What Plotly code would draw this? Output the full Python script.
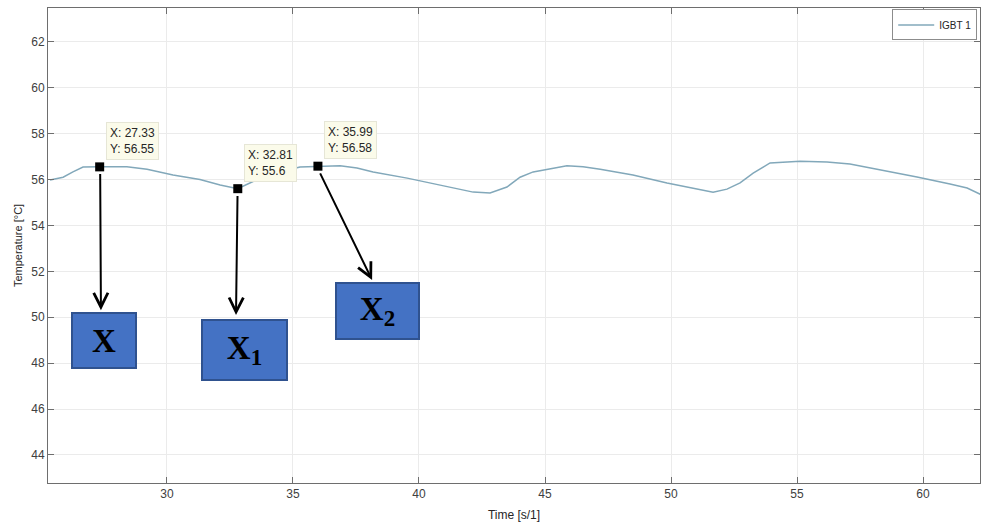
import plotly.graph_objects as go

# Temperature trace
time_s = [25.36, 25.88, 26.27, 26.67, 27.33, 28.41, 29.21, 30.24, 31.31, 32.11, 32.81,
          33.41, 33.97, 35.28, 35.99, 36.87, 37.54, 38.18, 39.53, 40.84, 42.15, 42.82,
          43.49, 44.01, 44.53, 45.87, 46.51, 47.19, 48.49, 49.84, 51.15, 51.67, 52.22,
          52.74, 53.26, 53.93, 55.12, 56.19, 57.10, 58.41, 59.76, 61.07, 61.75, 62.34]
temp_c = [55.98, 56.10, 56.33, 56.54, 56.55, 56.55, 56.45, 56.20, 56.00, 55.76, 55.60,
          55.90, 56.20, 56.54, 56.58, 56.60, 56.50, 56.33, 56.06, 55.76, 55.45, 55.41,
          55.67, 56.10, 56.33, 56.60, 56.55, 56.45, 56.20, 55.85, 55.54, 55.45, 55.58,
          55.85, 56.28, 56.72, 56.80, 56.76, 56.67, 56.41, 56.11, 55.80, 55.63, 55.32]

# Data tips
tip_x = [27.33, 32.81, 35.99]
tip_y = [56.55, 55.6, 56.58]
tip_labels = ["X: 27.33<br>Y: 56.55", "X: 32.81<br>Y: 55.6", "X: 35.99<br>Y: 56.58"]

# Labelled boxes and arrow heads
box_text = ["<b>X</b>", "<b>X<sub>1</sub></b>", "<b>X<sub>2</sub></b>"]
box_x = [27.49, 33.07, 38.36]
box_y = [48.97, 48.57, 50.28]
box_w = [62, 83, 81]
box_h = [53, 58, 54]
arrow_head_x = [27.38, 32.74, 38.14]
arrow_head_y = [50.31, 50.10, 51.62]
arrow_tail_y = [56.30, 55.35, 56.33]
arrow_tail_x = [27.35, 32.80, 36.05]

x_ticks = [30, 35, 40, 45, 50, 55, 60]
y_ticks = [44, 46, 48, 50, 52, 54, 56, 58, 60, 62]

fig = go.Figure()
fig.add_trace(go.Scatter(x=time_s, y=temp_c, mode="lines", name="IGBT 1",
                         line=dict(color="#82A8BA", width=1.5)))
fig.add_trace(go.Scatter(x=tip_x, y=tip_y, mode="markers", showlegend=False,
                         marker=dict(symbol="square", size=9, color="black")))

annotations = []
for x, y, t in zip(tip_x, tip_y, tip_labels):
    annotations.append(dict(x=x, y=y, xref="x", yref="y", text=t, showarrow=False,
                            xanchor="left", yanchor="bottom", xshift=6, yshift=7,
                            align="left", bgcolor="#FBFBEA", bordercolor="#E6E6D6",
                            borderwidth=1, borderpad=3,
                            font=dict(family="Liberation Sans, Arial", size=12, color="#262626")))
for hx, hy, tx, ty in zip(arrow_head_x, arrow_head_y, arrow_tail_x, arrow_tail_y):
    annotations.append(dict(x=hx, y=hy, ax=tx, ay=ty, xref="x", yref="y", axref="x", ayref="y",
                            text="", showarrow=True, arrowhead=5, arrowsize=1.4,
                            arrowwidth=2, arrowcolor="black", standoff=0, startstandoff=0))
for t, x, y, w, h in zip(box_text, box_x, box_y, box_w, box_h):
    annotations.append(dict(x=x, y=y, xref="x", yref="y", text=t, showarrow=False,
                            width=w, height=h, bgcolor="#4472C4", bordercolor="#2F528F",
                            borderwidth=2, borderpad=0, valign="middle", align="center",
                            font=dict(family="Liberation Serif, Times New Roman", size=33, color="black")))

fig.update_layout(
    width=982, height=523,
    margin=dict(l=48, r=2, t=8, b=40, autoexpand=False),
    paper_bgcolor="white", plot_bgcolor="white",
    showlegend=True,
    legend=dict(x=0.997, y=0.997, xanchor="right", yanchor="top",
                bgcolor="white", bordercolor="#8C8C8C", borderwidth=1,
                font=dict(family="Liberation Sans, Arial", size=10, color="#262626"),
                itemwidth=36, tracegroupgap=0),
    annotations=annotations,
    xaxis=dict(range=[25.28, 62.26], tickvals=x_ticks, showgrid=True, gridcolor="#EBEBEB",
               automargin=False,
               zeroline=False, showline=True, linecolor="#6E6E6E", linewidth=1, mirror="ticks",
               ticks="inside", ticklen=6, tickcolor="#6E6E6E",
               tickfont=dict(family="Liberation Sans, Arial", size=12, color="#404040"),
               title=dict(text="Time [s/1]", standoff=10,
                          font=dict(family="Liberation Sans, Arial", size=12, color="#262626"))),
    yaxis=dict(range=[42.78, 63.47], tickvals=y_ticks, showgrid=True, gridcolor="#EBEBEB",
               automargin=False,
               zeroline=False, showline=True, linecolor="#6E6E6E", linewidth=1, mirror="ticks",
               ticks="inside", ticklen=6, tickcolor="#6E6E6E",
               tickfont=dict(family="Liberation Sans, Arial", size=12, color="#404040"),
               title=dict(text="Temperature [°C]", standoff=6,
                          font=dict(family="Liberation Sans, Arial", size=11, color="#262626"))),
)

fig.write_html("out.html", config={"displayModeBar": False},
               post_script="document.body.style.margin='0px';")
